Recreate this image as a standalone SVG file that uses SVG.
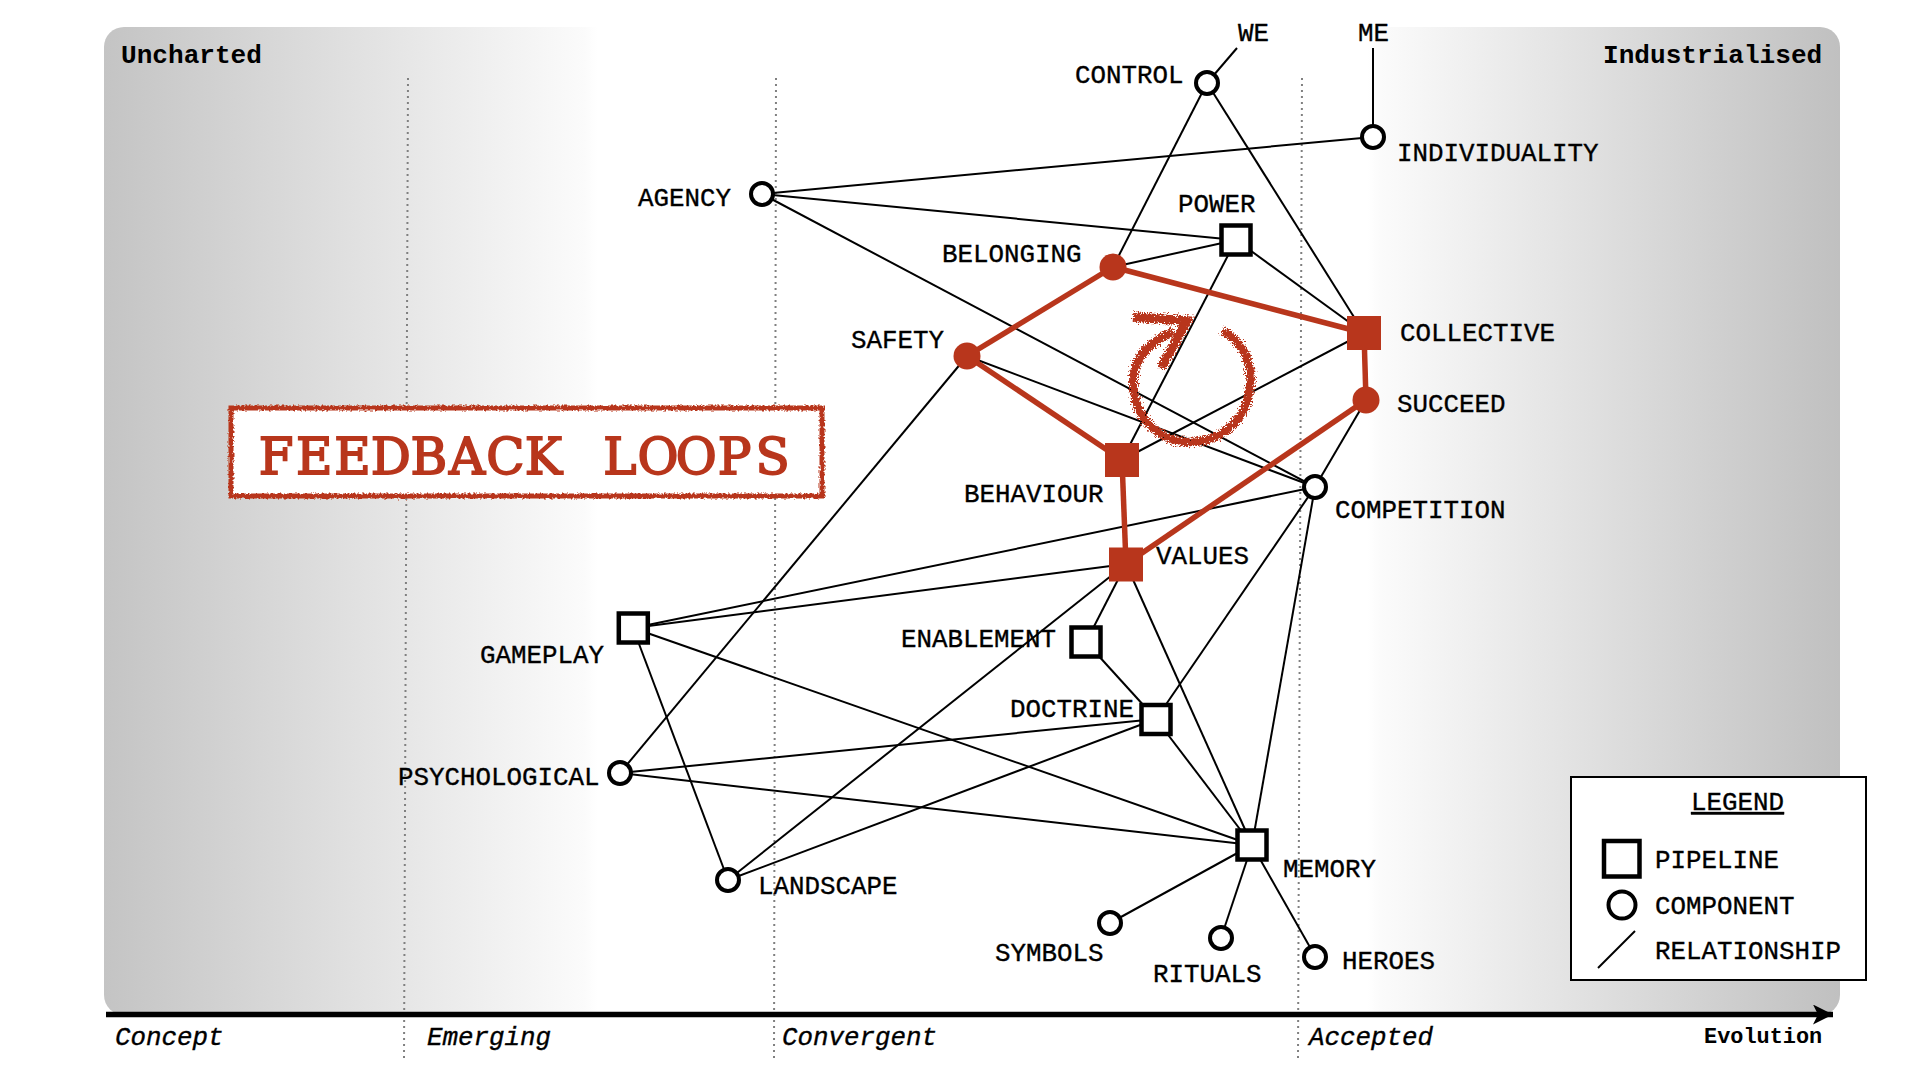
<svg xmlns="http://www.w3.org/2000/svg" width="1920" height="1080" viewBox="0 0 1920 1080">
<style>
text{font-family:"Liberation Mono","Courier New",monospace;font-size:25.85px;fill:#000}
.lb{stroke:#000;stroke-width:.35px}
.b{font-weight:bold}
.i{font-style:italic}
.e{stroke:#000;stroke-width:2;fill:none}
.r{stroke:#b8361c;stroke-width:5.5;fill:none}
.d{stroke:#808080;stroke-width:2;stroke-dasharray:2 4;fill:none}
.c{fill:#fff;stroke:#000;stroke-width:4}
.s{fill:#fff;stroke:#000;stroke-width:4.5}
.rf{fill:#b8361c}
</style>
<defs>
<linearGradient id="bg" gradientUnits="userSpaceOnUse" x1="104" y1="0" x2="1840" y2="0">
<stop offset="0" stop-color="#c4c4c4"/>
<stop offset="0.277" stop-color="#fbfbfb"/>
<stop offset="0.284" stop-color="#fff"/>
<stop offset="0.728" stop-color="#fff"/>
<stop offset="0.735" stop-color="#fbfbfb"/>
<stop offset="1" stop-color="#c0c0c0"/>
</linearGradient>
<filter id="rough" x="-10%" y="-10%" width="120%" height="120%">
<feTurbulence type="fractalNoise" baseFrequency="0.45" numOctaves="2" seed="4"/>
<feDisplacementMap in="SourceGraphic" scale="4.5" xChannelSelector="R" yChannelSelector="G"/>
</filter>
<filter id="rougher" x="-15%" y="-15%" width="130%" height="130%">
<feTurbulence type="fractalNoise" baseFrequency="0.65" numOctaves="2" seed="7"/>
<feDisplacementMap in="SourceGraphic" scale="10" xChannelSelector="R" yChannelSelector="G"/>
</filter>
<marker id="ah" markerUnits="userSpaceOnUse" markerWidth="24" markerHeight="22" refX="20" refY="10" orient="auto">
<path d="M0 0L20 10L0 20L5 10Z" fill="#000"/>
</marker>
</defs>
<g id="background">
<rect x="104" y="27" width="1736" height="988" rx="20" fill="url(#bg)"/>
<path class="d" d="M408 78L404 1058"/>
<path class="d" d="M776 78L774 1058"/>
<path class="d" d="M1302 78L1298 1058"/>
</g>
<g id="connectors">
<path class="e" d="M1207 83L1237 48"/>
<path class="e" d="M1373 137L1373 48"/>
<path class="e" d="M762 194L1373 137"/>
<path class="e" d="M762 194L1236 240"/>
<path class="e" d="M762 194L1315 487"/>
<path class="e" d="M1207 83L1113 267"/>
<path class="e" d="M1207 83L1364 333"/>
<path class="e" d="M1236 240L1113 267"/>
<path class="e" d="M1236 240L1364 333"/>
<path class="e" d="M1236 240L1122 460"/>
<path class="e" d="M1364 333L1122 460"/>
<path class="e" d="M1366 400L1315 487"/>
<path class="e" d="M967 356L1315 487"/>
<path class="e" d="M967 356L620 773"/>
<path class="e" d="M1315 487L633 628"/>
<path class="e" d="M1315 487L1156 719"/>
<path class="e" d="M1315 487L1252 845"/>
<path class="e" d="M1126 564L633 628"/>
<path class="e" d="M1126 564L1086 642"/>
<path class="e" d="M1126 564L728 880"/>
<path class="e" d="M1126 564L1252 845"/>
<path class="e" d="M1086 642L1156 719"/>
<path class="e" d="M1156 719L620 773"/>
<path class="e" d="M1156 719L728 880"/>
<path class="e" d="M1156 719L1252 845"/>
<path class="e" d="M633 628L1252 845"/>
<path class="e" d="M633 628L728 880"/>
<path class="e" d="M620 773L1252 845"/>
<path class="e" d="M1252 845L1110 923"/>
<path class="e" d="M1252 845L1221 938"/>
<path class="e" d="M1252 845L1315 956"/>
<path class="r" d="M1113 267L967 356"/>
<path class="r" d="M1113 267L1364 333"/>
<path class="r" d="M1364 333L1366 400"/>
<path class="r" d="M1366 400L1126 564"/>
<path class="r" d="M967 356L1122 460"/>
<path class="r" d="M1122 460L1126 564"/>
</g>
<g id="axis">
<path d="M106 1014.500L1833 1014.500" stroke="#000" stroke-width="5.500" fill="none" marker-end="url(#ah)"/>
<text class="lb i" x="115" y="1045">Concept</text>
<text class="lb i" x="427" y="1045">Emerging</text>
<text class="lb i" x="782" y="1045">Convergent</text>
<text class="lb i" x="1309" y="1045">Accepted</text>
<text class="b" x="1704" y="1043" style="font-size:21.900px">Evolution</text>
<text class="b" x="121" y="62.500" style="font-size:26.100px">Uncharted</text>
<text class="b" x="1603" y="62.500" style="font-size:26.100px">Industrialised</text>
</g>
<g id="title">
<rect x="231" y="408" width="591" height="88" fill="#fff" stroke="#b8361c" stroke-width="5" filter="url(#rough)"/>
<text x="276.100 314.300 352.500 390.700 428.900 467.100 505.300 543.500 581.700 619.900 658.100 696.300 734.500 772.700" y="474" text-anchor="middle" style="font-family:'DejaVu Serif',serif;font-size:50px;fill:#b8361c;stroke:#b8361c;stroke-width:1.800px">FEEDBACK LOOPS</text>
</g>
<g id="loop" filter="url(#rougher)">
<path d="M1222 331C1245 342 1253 365 1250 388C1246 420 1222 442 1190 442C1160 442 1138 420 1134 392C1130 365 1142 345 1173 332" fill="none" stroke="#b8361c" stroke-width="8.500"/>
<path d="M1133 317L1187 321L1161 368" fill="none" stroke="#b8361c" stroke-width="9.500"/>
</g>
<g id="we"><text class="lb" x="1238" y="41">WE</text></g>
<g id="me"><text class="lb" x="1358" y="41">ME</text></g>
<g id="control"><circle class="c" cx="1207" cy="83" r="11"/><text class="lb" x="1075" y="83">CONTROL</text></g>
<g id="individuality"><circle class="c" cx="1373" cy="137" r="11"/><text class="lb" x="1397" y="161">INDIVIDUALITY</text></g>
<g id="agency"><circle class="c" cx="762" cy="194" r="11"/><text class="lb" x="638" y="206">AGENCY</text></g>
<g id="power"><rect class="s" x="1221.500" y="225.500" width="29" height="29"/><text class="lb" x="1178" y="212">POWER</text></g>
<g id="belonging"><circle class="rf" cx="1113" cy="267" r="13.500"/><text class="lb" x="942" y="262">BELONGING</text></g>
<g id="collective"><rect class="rf" x="1347" y="316" width="34" height="34"/><text class="lb" x="1400" y="341">COLLECTIVE</text></g>
<g id="safety"><circle class="rf" cx="967" cy="356" r="13.500"/><text class="lb" x="851" y="348">SAFETY</text></g>
<g id="succeed"><circle class="rf" cx="1366" cy="400" r="13.500"/><text class="lb" x="1397" y="412">SUCCEED</text></g>
<g id="behaviour"><rect class="rf" x="1105" y="443" width="34" height="34"/><text class="lb" x="964" y="502">BEHAVIOUR</text></g>
<g id="competition"><circle class="c" cx="1315" cy="487" r="11"/><text class="lb" x="1335" y="517.500">COMPETITION</text></g>
<g id="values"><rect class="rf" x="1109" y="547.500" width="34" height="34"/><text class="lb" x="1156" y="564">VALUES</text></g>
<g id="gameplay"><rect class="s" x="618.800" y="613.500" width="29" height="29"/><text class="lb" x="480" y="663">GAMEPLAY</text></g>
<g id="enablement"><rect class="s" x="1071.500" y="627.500" width="29" height="29"/><text class="lb" x="901" y="647">ENABLEMENT</text></g>
<g id="doctrine"><rect class="s" x="1141.500" y="705" width="29" height="29"/><text class="lb" x="1010" y="717">DOCTRINE</text></g>
<g id="psychological"><circle class="c" cx="620" cy="773" r="11"/><text class="lb" x="398" y="785">PSYCHOLOGICAL</text></g>
<g id="landscape"><circle class="c" cx="728" cy="880" r="11"/><text class="lb" x="758" y="894">LANDSCAPE</text></g>
<g id="memory"><rect class="s" x="1237.500" y="830.500" width="29" height="29"/><text class="lb" x="1283" y="877">MEMORY</text></g>
<g id="symbols"><circle class="c" cx="1110" cy="923" r="11"/><text class="lb" x="995" y="961">SYMBOLS</text></g>
<g id="rituals"><circle class="c" cx="1221" cy="938" r="11"/><text class="lb" x="1153" y="982">RITUALS</text></g>
<g id="heroes"><circle class="c" cx="1315" cy="957" r="11"/><text class="lb" x="1342" y="969">HEROES</text></g>
<g id="legend">
<rect x="1571" y="777" width="295" height="203" fill="#fff" stroke="#000" stroke-width="2"/>
<text class="lb" x="1691" y="810" text-decoration="underline">LEGEND</text>
<rect class="s" x="1604" y="841" width="35.500" height="35.500"/>
<text class="lb" x="1655" y="868">PIPELINE</text>
<circle class="c" cx="1622" cy="905" r="13.500"/>
<text class="lb" x="1655" y="914">COMPONENT</text>
<path class="e" d="M1598 968L1635 931"/>
<text class="lb" x="1655" y="959">RELATIONSHIP</text>
</g>
</svg>
